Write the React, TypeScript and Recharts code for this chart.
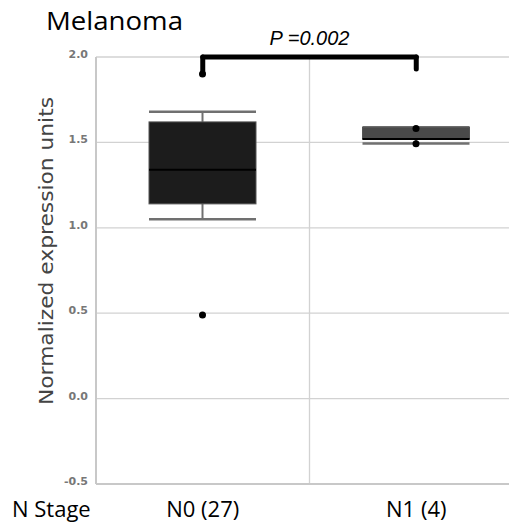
import React from "react";
import {
  ComposedChart,
  Bar,
  XAxis,
  YAxis,
  CartesianGrid,
  ReferenceLine,
} from "recharts";

const categories = ["N0 (27)", "N1 (4)"];
const whiskerLow = [1.05, 1.494];
const q1 = [1.14, 1.52];
const median = [1.34, 1.52];
const q3 = [1.62, 1.588];
const whiskerHigh = [1.68, 1.588];
const points = [
  [1.9, 0.49],
  [1.582, 1.492],
];
const boxFill = ["#1c1c1c", "#4a4a4a"];
const yTicks = [-0.5, 0, 0.5, 1.0, 1.5, 2.0];

const data = categories.map((name, i) => ({
  name,
  lo: whiskerLow[i],
  q1: q1[i],
  med: median[i],
  q3: q3[i],
  hi: whiskerHigh[i],
  pts: points[i],
  fill: boxFill[i],
}));

const W = 540;
const H = 524;

const BoxShape = (props: any) => {
  const { x, y, width, height, payload } = props;
  const p = payload;
  // map a value to pixels using the bar's own scaled extent
  const toY = (v: number) => y + (height * (p.hi - v)) / (p.hi - p.lo);
  const cx = x + width / 2;
  const top = toY(p.q3);
  const bot = toY(p.q1);
  return (
    <g>
      <line x1={cx} x2={cx} y1={toY(p.hi)} y2={top} stroke="#707070" strokeWidth={2} />
      <line x1={cx} x2={cx} y1={bot} y2={toY(p.lo)} stroke="#707070" strokeWidth={2} />
      <line x1={x} x2={x + width} y1={toY(p.hi)} y2={toY(p.hi)} stroke="#707070" strokeWidth={2.5} />
      <line x1={x} x2={x + width} y1={toY(p.lo)} y2={toY(p.lo)} stroke="#707070" strokeWidth={2.5} />
      <rect
        x={x}
        y={top}
        width={width}
        height={Math.max(bot - top, 1)}
        fill={p.fill}
        stroke="#555"
        strokeWidth={1}
      />
      <line x1={x} x2={x + width} y1={toY(p.med)} y2={toY(p.med)} stroke="#000" strokeWidth={2} />
      {p.pts.map((v: number, k: number) => (
        <circle key={k} cx={cx} cy={toY(v)} r={3.5} fill="#000" />
      ))}
    </g>
  );
};

const bracket = { stroke: "#000", strokeWidth: 5, strokeLinecap: "round" as const };

export default function App() {
  return (
    <div style={{ position: "relative", margin: -8, width: 517, height: 532, overflow: "hidden" }}>
      <div style={{ position: "absolute", left: 8, top: 8 }}>
        <ComposedChart
          width={W}
          height={H}
          data={data}
          margin={{ top: 49, right: 25, bottom: 8, left: 0 }}
        >
          <CartesianGrid
            stroke="#d2d2d2"
            strokeWidth={1.3}
            verticalCoordinatesGenerator={(p: any) => [p.offset.left + p.offset.width / 2]}
          />
          <XAxis
            dataKey="name"
            height={40}
            tickSize={0}
            tickMargin={17}
            axisLine={{ stroke: "#c8c8c8", strokeWidth: 2 }}
            tick={{ fontSize: 22, fill: "#000", fontFamily: "Open Sans" }}
          />
          <YAxis
            width={88}
            type="number"
            domain={[-0.5, 2]}
            ticks={yTicks}
            interval={0}
            tickFormatter={(v: number) => v.toFixed(1)}
            tickSize={0}
            tickMargin={8}
            axisLine={{ stroke: "#c8c8c8", strokeWidth: 2 }}
            tick={{ fontSize: 11, fill: "#777", fontWeight: "bold", fontFamily: "DejaVu Sans", dy: -3 }}
          />
          <Bar
            dataKey={(d: any) => [d.lo, d.hi]}
            barSize={107}
            shape={<BoxShape />}
            isAnimationActive={false}
          />
          <ReferenceLine
            segment={[
              { x: categories[0], y: 2.0 },
              { x: categories[1], y: 2.0 },
            ]}
            {...bracket}
            ifOverflow="visible"
            label={{
              value: "P =0.002",
              position: "top",
              offset: 12,
              fontSize: 20,
              fontStyle: "italic",
              fill: "#000",
              fontFamily: "Liberation Sans",
            }}
          />
          <ReferenceLine
            segment={[
              { x: categories[0], y: 2.0 },
              { x: categories[0], y: 1.91 },
            ]}
            {...bracket}
            ifOverflow="visible"
          />
          <ReferenceLine
            segment={[
              { x: categories[1], y: 2.0 },
              { x: categories[1], y: 1.93 },
            ]}
            {...bracket}
            ifOverflow="visible"
          />
        </ComposedChart>
      </div>
      <svg
        width={517}
        height={532}
        style={{ position: "absolute", left: 0, top: 0, pointerEvents: "none" }}
      >
        <text
          x={46}
          y={30}
          fontSize={25}
          fontFamily="Open Sans"
          fill="#000"
          textLength={137}
          lengthAdjust="spacingAndGlyphs"
        >
          Melanoma
        </text>
        <text x={12} y={517} fontSize={22} fontFamily="Open Sans" fill="#000">
          N Stage
        </text>
        <text
          transform="translate(53,251) rotate(-90)"
          textAnchor="middle"
          fontSize={20}
          fontFamily="DejaVu Sans"
          fill="#444"
          textLength={308}
          lengthAdjust="spacingAndGlyphs"
        >
          Normalized expression units
        </text>
      </svg>
    </div>
  );
}
